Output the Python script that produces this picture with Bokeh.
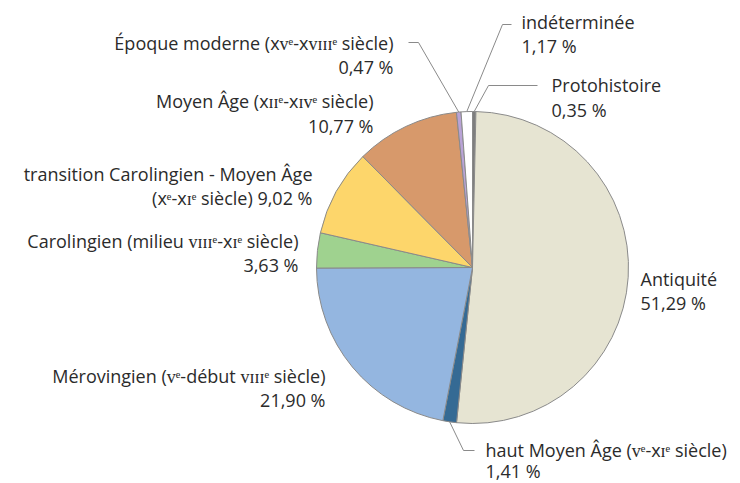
import math
from bokeh.plotting import figure
from bokeh.models import Range1d, ColumnDataSource
from bokeh.core.properties import value
from bokeh.embed import file_html
from bokeh.resources import INLINE

# ---- data ----
categories = [
    "Protohistoire",
    "Antiquité",
    "haut Moyen Âge (ᴠᵉ-xɪᵉ siècle)",
    "Mérovingien (ᴠᵉ-début ᴠɪɪɪᵉ siècle)",
    "Carolingien (milieu ᴠɪɪɪᵉ-xɪᵉ siècle)",
    "transition Carolingien - Moyen Âge (xᵉ-xɪᵉ siècle)",
    "Moyen Âge (xɪɪᵉ-xɪᴠᵉ siècle)",
    "Époque moderne (xᴠᵉ-xᴠɪɪɪᵉ siècle)",
    "indéterminée",
]
percent = [0.35, 51.29, 1.41, 21.90, 3.63, 9.02, 10.77, 0.47, 1.17]
colors = ["#7e7e7e", "#e6e4d2", "#356a94", "#94b6e0", "#9fd28f",
          "#fdd66b", "#d7996b", "#b9a3d6", "#ffffff"]

W, H = 740, 483
FONT = "Open Sans"
FS = "18px"
TXT = "#2b2b2b"
GRAY = "#8a8a8a"


def X(px):
    return px


def Y(py):
    return H - py


p = figure(width=W, height=H, output_backend="svg", toolbar_location=None,
           x_range=Range1d(0, W), y_range=Range1d(0, H), min_border=0)
p.axis.visible = False
p.grid.visible = False
p.outline_line_color = None
p.background_fill_color = "white"
p.border_fill_color = "white"

cx, cy, r = X(472), Y(267), 156
total = sum(percent)
starts, ends, mids = [], [], []
acc = 0.0
for v in percent:
    a0 = math.pi / 2 - 2 * math.pi * acc / total
    a1 = math.pi / 2 - 2 * math.pi * (acc + v) / total
    starts.append(a0)
    ends.append(a1)
    mids.append((a0 + a1) / 2)
    acc += v

src = ColumnDataSource(dict(start=starts, end=ends, color=colors))
p.wedge(x=cx, y=cy, radius=r, start_angle="start", end_angle="end",
        direction="clock", fill_color="color", line_color=GRAY,
        line_width=1, source=src)


def pct(v):
    return f"{v:.2f}".replace(".", ",") + " %"


def edge(i):
    a = mids[i]
    return cx + r * math.cos(a), cy + r * math.sin(a)


# leader lines: (index, elbow point, end point) in page coordinates
leaders = [
    (7, (418, 42), (408, 42)),
    (8, (502, 24), (511, 24)),
    (0, (488, 85), (537, 85)),
    (2, (463, 450), (474, 450)),
]
for i, (ex, ey), (tx, ty) in leaders:
    sx, sy = edge(i)
    p.line([sx, X(ex), X(tx)], [sy, Y(ey), Y(ty)], line_color=GRAY,
           line_width=1)

# label lines: text, x, y, align
lines = [
    ("Époque moderne (xᴠᵉ-xᴠɪɪɪᵉ siècle)", 393, 42, "right"),
    (pct(percent[7]), 393, 66, "right"),
    ("indéterminée", 521, 21, "left"),
    (pct(percent[8]), 521, 45, "left"),
    ("Protohistoire", 551, 84, "left"),
    (pct(percent[0]), 551, 109, "left"),
    ("Moyen Âge (xɪɪᵉ-xɪᴠᵉ siècle)", 373, 100, "right"),
    (pct(percent[6]), 373, 125, "right"),
    ("transition Carolingien - Moyen Âge", 312, 173, "right"),
    ("(xᵉ-xɪᵉ siècle) " + pct(percent[5]), 312, 197, "right"),
    ("Carolingien (milieu ᴠɪɪɪᵉ-xɪᵉ siècle)", 298, 240, "right"),
    (pct(percent[4]), 298, 264, "right"),
    ("Mérovingien (ᴠᵉ-début ᴠɪɪɪᵉ siècle)", 325, 375, "right"),
    (pct(percent[3]), 325, 399, "right"),
    ("Antiquité", 640, 278, "left"),
    (pct(percent[1]), 640, 302, "left"),
    ("haut Moyen Âge (ᴠᵉ-xɪᵉ siècle)", 485, 449, "left"),
    (pct(percent[2]), 485, 470, "left"),
]
for t, x, y, al in lines:
    p.text(x=[X(x)], y=[Y(y)], text=[t], text_align=al,
           text_baseline="middle", text_font=value(FONT),
           text_font_size=FS, text_color=TXT)

open("out.html", "w").write(file_html(p, INLINE))
